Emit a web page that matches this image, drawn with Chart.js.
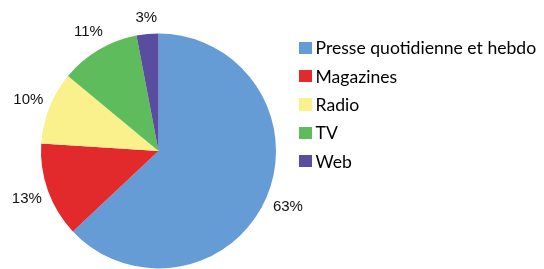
<!DOCTYPE html>
<html>
<head>
<meta charset="utf-8">
<script src="https://cdn.jsdelivr.net/npm/chart.js@4.4.0/dist/chart.umd.min.js"></script>
<style>
  html, body { margin: 0; padding: 0; background: #fff; }
  #wrap { position: relative; width: 544px; height: 269px; }
  #legend { position: absolute; left: 299px; top: 33.7px; font-family: Lato, sans-serif; font-size: 17.6px; color: #000; }
  .item { display: flex; align-items: center; height: 28.33px; }
  .dot { width: 12.5px; height: 12.5px; margin-right: 4px; flex: none; }
</style>
</head>
<body>
<div id="wrap">
  <canvas id="pie" width="544" height="269"></canvas>
  <div id="legend"></div>
</div>
<script>
// ── data ──
const labels = ['Presse quotidienne et hebdo', 'Magazines', 'Radio', 'TV', 'Web'];
const shares = [63, 13, 10, 11, 3];
const colors = ['#659cd5', '#e2292c', '#faf08c', '#5fbc5c', '#5a4da0'];

// percent labels outside each slice (labels near the top sit a little closer)
const outsideLabels = {
  id: 'outsideLabels',
  afterDatasetsDraw(chart) {
    const ctx = chart.ctx;
    const meta = chart.getDatasetMeta(0);
    ctx.save();
    ctx.font = '15px "Liberation Sans", Arial, sans-serif';
    ctx.fillStyle = '#111';
    ctx.textAlign = 'center';
    ctx.textBaseline = 'middle';
    meta.data.forEach((arc, i) => {
      const a = (arc.startAngle + arc.endAngle) / 2;
      const dy = Math.sin(a);
      const r = arc.outerRadius + 23 - 6 * Math.pow(dy, 8);
      ctx.fillText(shares[i] + '%', arc.x + Math.cos(a) * r + 0.5, arc.y + dy * r + 0.5);
    });
    ctx.restore();
  }
};

new Chart(document.getElementById('pie'), {
  type: 'pie',
  data: {
    labels: labels,
    datasets: [{
      data: shares,
      backgroundColor: colors,
      borderWidth: 0,
    }]
  },
  options: {
    responsive: false,
    animation: false,
    layout: { padding: { left: 41, top: 33.5, right: 268, bottom: 0.5 } },
    plugins: {
      legend: { display: false },
      tooltip: { enabled: false }
    }
  },
  plugins: [outsideLabels]
});

document.getElementById('legend').innerHTML = labels.map((l, i) =>
  `<div class="item"><div class="dot" style="background:${colors[i]}"></div><span>${l}</span></div>`
).join('');
</script>
</body>
</html>
